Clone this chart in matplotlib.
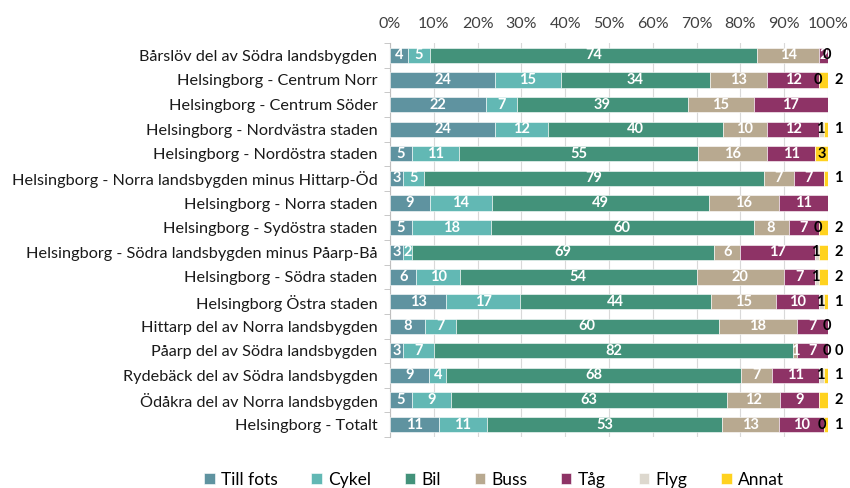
import matplotlib
matplotlib.use("Agg")
import matplotlib.pyplot as plt
import numpy as np

categories = [
    "Bårslöv del av Södra landsbygden",
    "Helsingborg - Centrum Norr",
    "Helsingborg - Centrum Söder",
    "Helsingborg - Nordvästra staden",
    "Helsingborg - Nordöstra staden",
    "Helsingborg - Norra landsbygden minus Hittarp-Öd",
    "Helsingborg - Norra staden",
    "Helsingborg - Sydöstra staden",
    "Helsingborg - Södra landsbygden minus Påarp-Bå",
    "Helsingborg - Södra staden",
    "Helsingborg Östra staden",
    "Hittarp del av Norra landsbygden",
    "Påarp del av Södra landsbygden",
    "Rydebäck del av Södra landsbygden",
    "Ödåkra del av Norra landsbygden",
    "Helsingborg - Totalt",
]
series_names = ["Till fots", "Cykel", "Bil", "Buss", "Tåg", "Flyg", "Annat"]
till_fots = [4, 24, 22, 24, 5, 3, 9, 5, 3, 6, 13, 8, 3, 9, 5, 11]
cykel = [5, 15, 7, 12, 11, 5, 14, 18, 2, 10, 17, 7, 7, 4, 9, 11]
bil = [74, 34, 39, 40, 55, 79, 49, 60, 69, 54, 44, 60, 82, 68, 63, 53]
buss = [14, 13, 15, 10, 16, 7, 16, 8, 6, 20, 15, 18, 1, 7, 12, 13]
tag = [2, 12, 17, 12, 11, 7, 11, 7, 17, 7, 10, 7, 7, 11, 9, 10]
flyg = [0, 0, None, 1, None, None, None, 0, 1, 1, 1, 0, 0, 1, None, 0]
annat = [None, 2, None, 1, 3, 1, None, 2, 2, 2, 1, None, 0, 1, 2, 1]
tick_labels = ["0%", "10%", "20%", "30%", "40%", "50%", "60%", "70%", "80%", "90%", "100%"]

colors = ["#5F93A0", "#62B8B4", "#43927A", "#B8A990", "#8E3366", "#DDD8CE", "#FFD21F"]

plt.rcParams['font.family'] = ['Lato', 'DejaVu Sans']

raw = [till_fots, cykel, bil, buss, tag, flyg, annat]
vals = np.array([[0 if v is None else v for v in s] for s in raw], dtype=float)
totals = vals.sum(axis=0)
pct = vals / totals * 100

fig = plt.figure(figsize=(8.5, 4.88), dpi=100)
ax = fig.add_axes([390 / 850, 1 - 437 / 488, 438 / 850, (437 - 43) / 488])

n = len(categories)
y = np.arange(n)
left = np.zeros(n)
bars = []
lab_fs = 10.5
for i, name in enumerate(series_names):
    b = ax.barh(y, pct[i], left=left, height=0.62, color=colors[i], label=name,
                edgecolor='white', linewidth=0.4, zorder=3)
    bars.append(b)
    for j in range(n):
        v = raw[i][j]
        if v is None:
            continue
        cx = left[j] + pct[i][j] / 2
        if i < 5:
            ax.text(cx, y[j], str(v), ha='center', va='center', color='white',
                    fontsize=lab_fs, fontweight='bold', zorder=5)
        elif i == 5:
            ax.annotate(str(v), xy=(cx, y[j]), xytext=(-1, 0), textcoords='offset points',
                        ha='center', va='center', color='black',
                        fontsize=lab_fs, fontweight='bold', zorder=5, annotation_clip=False)
        else:
            if v >= 3:
                ax.text(cx, y[j], str(v), ha='center', va='center', color='black',
                        fontsize=lab_fs, fontweight='bold', zorder=5)
            else:
                ax.annotate(str(v), xy=(100, y[j]), xytext=(4.5, 0), textcoords='offset points',
                            ha='left', va='center', color='black',
                            fontsize=lab_fs, fontweight='bold', zorder=5, annotation_clip=False)
    left = left + pct[i]

ax.set_xlim(0, 100)
ax.set_ylim(n - 0.5, -0.5)
ax.xaxis.tick_top()
ax.set_xticks(np.arange(0, 101, 10))
ax.set_xticklabels(tick_labels, fontsize=11.5, color='#404040')
ax.tick_params(axis='x', length=0, pad=9)
ax.set_yticks(y)
ax.set_yticklabels(categories, fontsize=11.7, color='#1a1a1a')
ax.set_yticks(np.arange(-0.5, n, 1), minor=True)
ax.tick_params(axis='y', which='major', length=0, pad=9)
ax.tick_params(axis='y', which='minor', length=4, color='#BFBFBF', direction='out')
ax.grid(axis='x', color='#D9D9D9', linewidth=0.8, zorder=0)
for s in ['top', 'right', 'bottom']:
    ax.spines[s].set_visible(False)
ax.spines['left'].set_color('#BFBFBF')

fig.legend(handles=bars, labels=series_names, loc='center', bbox_to_anchor=(494 / 850, 1 - 480 / 488),
           ncol=7, frameon=False, fontsize=12.5, handlelength=0.6, handleheight=0.6,
           handletextpad=0.35, columnspacing=1.95)

fig.savefig("out.png", dpi=100)
